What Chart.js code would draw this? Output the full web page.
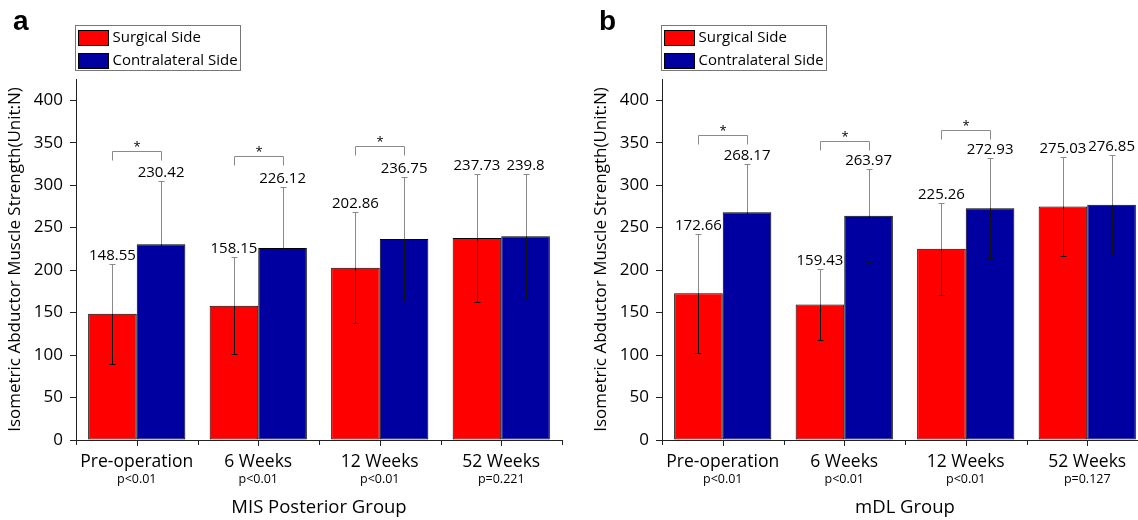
<!DOCTYPE html>
<html lang="en">
<head>
<meta charset="UTF-8">
<title>Isometric Abductor Muscle Strength</title>
<style>
  * { margin: 0; padding: 0; box-sizing: border-box; }
  body { width: 1138px; height: 520px; overflow: hidden; background: #fff; position: relative; }
  .panel { position: absolute; top: 0; }
  #panelA { left: 0; }
  #panelB { left: 586px; }
</style>
</head>
<body>
<canvas id="panelA" class="panel" width="569" height="520"></canvas>
<canvas id="panelB" class="panel" width="569" height="520"></canvas>

<script src="https://cdn.jsdelivr.net/npm/chart.js"></script>
<script>
// data
const categories = ['Pre-operation', '6 Weeks', '12 Weeks', '52 Weeks'];
const seriesNames = ['Surgical Side', 'Contralateral Side'];

const misSurgical = [148.55, 158.15, 202.86, 237.73];
const misSurgicalSD = [58.5, 57, 65.7, 75];
const misContra = [230.42, 226.12, 236.75, 239.8];
const misContraSD = [74, 72, 73, 73.5];
const misPValues = ['p<0.01', 'p<0.01', 'p<0.01', 'p=0.221'];
const misSigLevel = [340, 334, 346, null];   // bracket heights (N), null = no bracket

const mdlSurgical = [172.66, 159.43, 225.26, 275.03];
const mdlSurgicalSD = [70, 42, 54, 58];
const mdlContra = [268.17, 263.97, 272.93, 276.85];
const mdlContraSD = [57, 55, 59, 59];
const mdlPValues = ['p<0.01', 'p<0.01', 'p<0.01', 'p=0.127'];
const mdlSigLevel = [359, 352, 365, null];

const yTicksMax = 425;
const FONT = '"Open Sans", sans-serif';
const RED = '#ff0000';
const BLUE = '#0000a0';

Chart.defaults.font.family = FONT;
Chart.defaults.color = '#000';

// error bars, value labels, brackets, p-values, legend, panel letter
const extras = {
  id: 'extras',
  afterDatasetsDraw(chart) {
    const {ctx, chartArea: area, scales: {x, y}} = chart;
    const o = chart.options.plugins.extras;
    ctx.save();

    // x-axis ticks: category centres and boundaries
    ctx.strokeStyle = '#222';
    ctx.lineWidth = 1;
    const step = (x.right - x.left) / categories.length;
    ctx.beginPath();
    for (let i = 0; i <= categories.length; i++) {
      const bx = Math.round(x.left + i * step) + 0.5;
      ctx.moveTo(bx, area.bottom); ctx.lineTo(bx, area.bottom + 5);
    }
    categories.forEach((c, i) => {
      const cx = Math.round(x.getPixelForValue(i)) + 0.5;
      ctx.moveTo(cx, area.bottom); ctx.lineTo(cx, area.bottom + 6);
    });
    ctx.stroke();

    // error bars + labels
    chart.data.datasets.forEach((ds, di) => {
      const meta = chart.getDatasetMeta(di);
      meta.data.forEach((bar, i) => {
        const v = ds.data[i], sd = ds.sd[i];
        const cx = Math.round(bar.x) + 0.5;
        const yTop = Math.round(y.getPixelForValue(v + sd)) + 0.5;
        const yBot = Math.round(y.getPixelForValue(v - sd)) + 0.5;
        const yBar = bar.y;
        ctx.strokeStyle = '#8a8a8a';
        ctx.beginPath();
        ctx.moveTo(cx, yTop); ctx.lineTo(cx, yBar);
        ctx.moveTo(cx - 3, yTop); ctx.lineTo(cx + 3, yTop);
        ctx.stroke();
        ctx.strokeStyle = '#111';
        ctx.beginPath();
        ctx.moveTo(cx, yBar); ctx.lineTo(cx, yBot);
        ctx.moveTo(cx - 3, yBot); ctx.lineTo(cx + 3, yBot);
        ctx.stroke();

        ctx.fillStyle = '#000';
        ctx.font = '15px ' + FONT;
        ctx.textAlign = 'center';
        ctx.textBaseline = 'middle';
        ctx.fillText(String(v), bar.x, yTop - 9);
      });
    });

    // significance brackets
    const m0 = chart.getDatasetMeta(0), m1 = chart.getDatasetMeta(1);
    o.sig.forEach((lvl, i) => {
      if (lvl == null) return;
      const x1 = Math.round(m0.data[i].x) + 0.5, x2 = Math.round(m1.data[i].x) + 0.5;
      const yl = Math.round(y.getPixelForValue(lvl)) + 0.5;
      ctx.strokeStyle = '#8a8a8a';
      ctx.beginPath();
      ctx.moveTo(x1, yl + 9); ctx.lineTo(x1, yl); ctx.lineTo(x2, yl); ctx.lineTo(x2, yl + 9);
      ctx.stroke();
      ctx.fillStyle = '#000';
      ctx.font = '13px ' + FONT;
      ctx.textAlign = 'center';
      ctx.textBaseline = 'alphabetic';
      ctx.fillText('*', (x1 + x2) / 2, yl - 1);
    });

    // p-values under category labels
    ctx.fillStyle = '#000';
    ctx.font = '12.5px ' + FONT;
    ctx.textAlign = 'center';
    ctx.textBaseline = 'middle';
    o.pValues.forEach((p, i) => ctx.fillText(p, x.getPixelForValue(i), 479));

    // legend box
    const lx = Math.round(area.left) - 0.5, ly = 25.5;
    ctx.strokeStyle = '#777';
    ctx.strokeRect(lx, ly, 165, 45);
    chart.data.datasets.forEach((ds, di) => {
      const sy = 30 + di * 23;
      ctx.fillStyle = ds.backgroundColor;
      ctx.fillRect(lx + 3, sy, 30, 15);
      ctx.strokeStyle = '#000';
      ctx.strokeRect(lx + 3, sy + 0.5, 30, 15);
      ctx.fillStyle = '#000';
      ctx.font = '15px ' + FONT;
      ctx.textAlign = 'left';
      ctx.textBaseline = 'middle';
      ctx.fillText(ds.label, lx + 37, sy + 8);
    });

    // panel letter
    ctx.fillStyle = '#000';
    ctx.font = 'bold 28px "Liberation Sans", Arial, sans-serif';
    ctx.textAlign = 'left';
    ctx.textBaseline = 'alphabetic';
    ctx.fillText(o.letter, 13, 30);

    ctx.restore();
  }
};

function makePanel(id, letter, title, surg, surgSD, contra, contraSD, pValues, sig) {
  return new Chart(document.getElementById(id), {
    type: 'bar',
    data: {
      labels: categories,
      datasets: [
        { label: seriesNames[0], data: surg, sd: surgSD, backgroundColor: RED,
          borderColor: '#000', borderWidth: 1, borderSkipped: false },
        { label: seriesNames[1], data: contra, sd: contraSD, backgroundColor: BLUE,
          borderColor: '#000', borderWidth: 1, borderSkipped: false }
      ]
    },
    options: {
      responsive: false,
      animation: false,
      devicePixelRatio: 1,
      layout: { padding: { top: 79, right: 7, left: 0, bottom: 0 } },
      datasets: { bar: { categoryPercentage: 0.8, barPercentage: 1 } },
      plugins: {
        legend: { display: false },
        tooltip: { enabled: false },
        extras: { letter, pValues, sig }
      },
      scales: {
        x: {
          afterFit: s => { s.height = 80; },
          grid: { display: false },
          border: { display: true, color: '#222', width: 1 },
          ticks: { font: { size: 17.5 }, color: '#000', padding: 4, maxRotation: 0 },
          title: { display: true, text: title, font: { size: 18.5 }, color: '#000', padding: { top: 0, bottom: 1 } }
        },
        y: {
          min: 0,
          max: yTicksMax,
          afterFit: s => { s.width = 76; },
          grid: { drawOnChartArea: false, tickLength: 6, color: '#222' },
          border: { display: true, color: '#222', width: 1 },
          ticks: {
            stepSize: 25,
            includeBounds: false,
            padding: 7,
            font: { size: 17 },
            color: '#000',
            callback: v => (v % 50 === 0 ? v : '')
          },
          title: { display: true, text: 'Isometric Abductor Muscle Strength(Unit:N)',
            font: { size: 17 }, color: '#000', padding: { top: 5, bottom: 0 } }
        }
      }
    },
    plugins: [extras]
  });
}

makePanel('panelA', 'a', 'MIS Posterior Group', misSurgical, misSurgicalSD, misContra, misContraSD, misPValues, misSigLevel);
makePanel('panelB', 'b', 'mDL Group', mdlSurgical, mdlSurgicalSD, mdlContra, mdlContraSD, mdlPValues, mdlSigLevel);
</script>
</body>
</html>
